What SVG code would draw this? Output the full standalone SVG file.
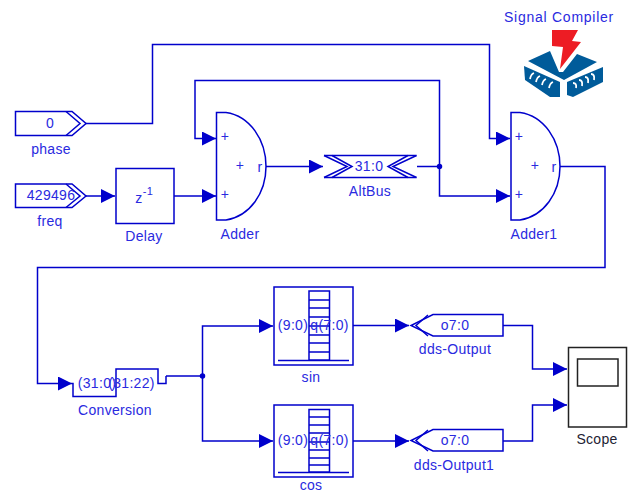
<svg xmlns="http://www.w3.org/2000/svg" width="633" height="493" viewBox="0 0 633 493">
<style>
.l{fill:none;stroke:#0000cc;stroke-width:1.5}
.b{fill:#fff;stroke:#0000cc;stroke-width:1.5}
.t{fill:#2a2ae0;font-family:"Liberation Sans",Arial,sans-serif;font-size:14px;letter-spacing:.3px;text-anchor:middle}
.k{fill:none;stroke:#222;stroke-width:1.5}
</style>
<defs>
<marker id="a" markerUnits="userSpaceOnUse" markerWidth="15" markerHeight="14" refX="14" refY="7" orient="auto"><path d="M0 0L14 7L0 14z" fill="#0000cc"/></marker>
</defs>
<rect width="633" height="493" fill="#fff"/>
<g id="connectors" class="l">
<path class="l" d="M85 123.500H152.500V44.500H489.500V138.500H510" marker-end="url(#a)"/>
<path class="l" d="M85 196H115" marker-end="url(#a)"/>
<path class="l" d="M174 196H216" marker-end="url(#a)"/>
<path class="l" d="M439.500 166.500V80.500H195V138.500H216" marker-end="url(#a)"/>
<path class="l" d="M266 166.500H323" marker-end="url(#a)"/>
<path class="l" d="M417 166.500H439.500V196H510" marker-end="url(#a)"/>
<path class="l" d="M560 166.500H605V267.500H37.500V383.500H72" marker-end="url(#a)"/>
<path class="l" d="M166 376H202.500V326H273" marker-end="url(#a)"/>
<path class="l" d="M202.500 376V441H273" marker-end="url(#a)"/>
<path class="l" d="M353 325.500H409" marker-end="url(#a)"/>
<path class="l" d="M353 441H409" marker-end="url(#a)"/>
<path class="l" d="M503 325.500H532.500V369H567" marker-end="url(#a)"/>
<path class="l" d="M503 441H532.500V405H567" marker-end="url(#a)"/>
<circle cx="439.500" cy="166.500" r="2" fill="#0000cc"/>
<circle cx="202.500" cy="376" r="2" fill="#0000cc"/>
</g>
<g id="phase">
<path class="b" d="M15.500 111.500H72L86 123.500L72 135.500H15.500z"/>
<path class="l" d="M66 111.500L80 123.500L66 135.500"/>
<text class="t" x="50" y="128">0</text>
<text class="t" x="51" y="154">phase</text>
</g>
<g id="freq">
<path class="b" d="M15.500 184H72L86 196L72 207.500H15.500z"/>
<path class="l" d="M66 184L80 196L66 207.500"/>
<text class="t" x="51" y="200">429496</text>
<text class="t" x="50" y="226">freq</text>
</g>
<g id="delay">
<rect class="b" x="116" y="168.500" width="58" height="55"/>
<text class="t" x="139" y="203">z</text>
<text class="t" x="148" y="195" style="font-size:11px">-1</text>
<text class="t" x="144" y="241">Delay</text>
</g>
<g id="adder">
<path class="b" d="M216.500 112.500H226C250 116 266 140 266 166.500C266 193 250 216 226 220H216.500z"/>
<text class="t" x="225" y="141">+</text>
<text class="t" x="225" y="199">+</text>
<text class="t" x="240" y="170">+</text>
<text class="t" x="260" y="172">r</text>
<text class="t" x="240" y="239">Adder</text>
</g>
<g id="altbus">
<path class="l" d="M324 155.500H416.500M324 177.500H416.500"/>
<path class="l" d="M324 155.500L347 166.500L324 177.500M332 155.500L352 166.500L332 177.500M416.500 155.500L393 166.500L416.500 177.500M408 155.500L388 166.500L408 177.500"/>
<text class="t" x="369" y="171">31:0</text>
<text class="t" x="370" y="196">AltBus</text>
</g>
<g id="adder1">
<path class="b" d="M511 112.500H520C544 116 560 140 560 166.500C560 193 544 216 520 220H511z"/>
<text class="t" x="519" y="141">+</text>
<text class="t" x="519" y="199">+</text>
<text class="t" x="535" y="170">+</text>
<text class="t" x="554" y="172">r</text>
<text class="t" x="534" y="239">Adder1</text>
</g>
<g id="signal-compiler">
<path d="M552 30H578L572 41L581 42L560 69L563 47L552 46z" fill="#ed1c24"/>
<path d="M528 61L550 51L559 72L563 72L577 54L597 62L564 80z" fill="#005b9a"/>
<path d="M524 66L560 82V97H550L525 80z" fill="#005b9a"/>
<path d="M567 82L603 67V82L573 97L567 95z" fill="#005b9a"/>
<path d="M530 79Q531 74 534 73M536 82Q537 77 540 76M542 85Q543 80 546 79M549 88Q550 83 553 82M576 88Q577 83 573 83M582 86Q583 80 579 80M588 83Q589 77 585 77M594 80Q595 74 591 74" fill="none" stroke="#fff" stroke-width="1.800"/>
<text class="t" x="559" y="22" style="letter-spacing:.75px">Signal Compiler</text>
</g>
<g id="conversion">
<path class="l" d="M72 383.500H73V396.500H116V369H158V383.500H166V376"/>
<text class="t" x="97" y="388">(31:0)</text>
<text class="t" x="131.500" y="388">(31:22)</text>
<text class="t" x="115" y="415">Conversion</text>
</g>
<g id="sin">
<rect class="b" x="274" y="287" width="79" height="78"/>
<path class="l" d="M309 291H329.500V360H309zM309 300H329.500M309 308H329.500M309 317H329.500M309 326H329.500M309 335H329.500M309 343H329.500M309 352H329.500M278 360.500H349"/>
<text class="t" x="293" y="330">(9:0)</text>
<text class="t" x="329.500" y="330">q(7:0)</text>
<text class="t" x="311" y="382">sin</text>
</g>
<g id="cos">
<rect class="b" x="274" y="405" width="79" height="72"/>
<path class="l" d="M309 409.500H329.500V472H309zM309 417H329.500M309 425H329.500M309 433H329.500M309 442H329.500M309 450H329.500M309 458H329.500M309 465H329.500M278 472.500H349"/>
<text class="t" x="293" y="445">(9:0)</text>
<text class="t" x="329.500" y="445">q(7:0)</text>
<text class="t" x="311" y="490">cos</text>
</g>
<g id="dds-output">
<path class="b" d="M503 314.500H433L411 325.500L433 336H503z"/>
<path class="l" d="M428 315L416 325.500L428 336"/>
<text class="t" x="455" y="330">o7:0</text>
<text class="t" x="455" y="354">dds-Output</text>
</g>
<g id="dds-output1">
<path class="b" d="M503 429.500H433L411 440.500L433 451H503z"/>
<path class="l" d="M428 430L416 440.500L428 451"/>
<text class="t" x="455" y="445">o7:0</text>
<text class="t" x="454" y="470">dds-Output1</text>
</g>
<g id="scope">
<rect class="k" x="568.500" y="347.500" width="58" height="79.500" style="fill:#fff"/>
<rect class="k" x="577.500" y="359" width="40.500" height="27"/>
<text class="t" x="597" y="444" style="fill:#223">Scope</text>
</g>
</svg>
